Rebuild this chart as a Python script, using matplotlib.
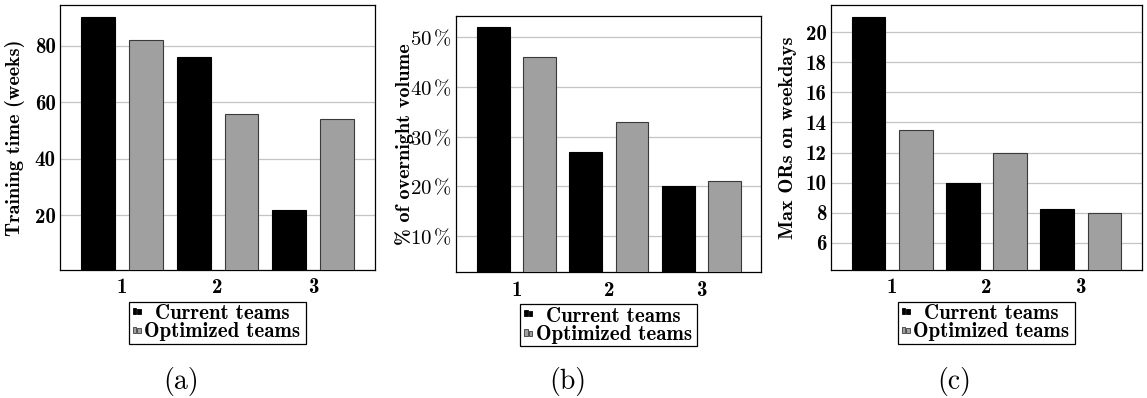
import numpy as np
import matplotlib
matplotlib.use("Agg")
import matplotlib.pyplot as plt
from matplotlib.patches import Rectangle

W, H = 1147, 398
plt.rcParams["mathtext.fontset"] = "cm"
plt.rcParams["axes.unicode_minus"] = False

# ---- data -------------------------------------------------------------
groups = [1, 2, 3]
group_labels = ["1", "2", "3"]
series_names = ["Current teams", "Optimized teams"]

training_current = [90, 76, 22]
training_optimized = [82, 56, 54]

overnight_current = [52, 27, 20]
overnight_optimized = [46, 33, 21]

max_or_current = [21, 10, 8.25]
max_or_optimized = [13.5, 12, 8]

yticks_training = [20, 40, 60, 80]
yticks_overnight = [10, 20, 30, 40, 50]
yticks_max_or = [6, 8, 10, 12, 14, 16, 18, 20]

ylabels = ["Training time (weeks)", "% of overnight volume", "Max ORs on weekdays"]
captions = ["(a)", "(b)", "(c)"]

# ---- style ------------------------------------------------------------
BLACK = "#000000"
GRAY = "#a0a0a0"
EDGE = "#3a3a3a"
GRID = "#c4c4c4"
BOLD = "cmb10"
ROMAN = "cmr10"
FS = 15
FS_LABEL = 14.5
FS_CAPTION = 20

fig = plt.figure(figsize=(W / 100, H / 100), dpi=100)


def px_box(x0, y0, x1, y1):
    """Pixel box (top-left origin) -> figure fraction rect."""
    return [x0 / W, 1 - y1 / H, (x1 - x0) / W, (y1 - y0) / H]


panels = [
    dict(box=(60, 5, 375.3, 270), ylim=(0.65, 94.4), cur=training_current,
         opt=training_optimized, yticks=yticks_training, pct=False,
         label_x=25, caption_x=180.7),
    dict(box=(456.3, 15.7, 761.3, 272.3), ylim=(2.69, 54.36), cur=overnight_current,
         opt=overnight_optimized, yticks=yticks_overnight, pct=True,
         label_x=413.5, caption_x=568),
    dict(box=(831, 4.7, 1142, 270), ylim=(4.18, 21.84), cur=max_or_current,
         opt=max_or_optimized, yticks=yticks_max_or, pct=False,
         label_x=797, caption_x=954),
]

x = np.array(groups, dtype=float)
offset, width = 0.25, 0.355


def draw_legend(ax):
    pos = ax.get_position()
    cx = (pos.x0 + pos.x1) / 2 * W
    axis_bottom = (1 - pos.y0) * H
    top = axis_bottom + 31.5
    bw, bh = 177, 42.5
    x0 = cx - bw / 2
    fig.patches.append(Rectangle((x0 / W, 1 - (top + bh) / H), bw / W, bh / H,
                                 transform=fig.transFigure, fill=False,
                                 edgecolor="black", lw=0.9))
    rows = [(series_names[0], BLACK, 12.5, 17.8), (series_names[1], GRAY, 31.8, 35.8)]
    for name, color, base_dy, text_dy in rows:
        hx = x0 + 4
        base = top + base_dy
        for bx, hh in ((0, 6.2), (4.3, 5.0)):
            fig.patches.append(Rectangle(((hx + bx) / W, 1 - base / H), 3.3 / W, hh / H,
                                         transform=fig.transFigure, facecolor=color,
                                         edgecolor=EDGE if color != BLACK else BLACK,
                                         lw=0.6))
        fig.text((cx + 4.8) / W, 1 - (top + text_dy) / H, name, ha="center",
                 va="baseline", family=BOLD, size=FS)


for i, p in enumerate(panels):
    ax = fig.add_axes(px_box(*p["box"]))
    ax.bar(x - offset, p["cur"], width=width, color=BLACK, edgecolor=BLACK,
           lw=0.8, zorder=3)
    ax.bar(x + offset, p["opt"], width=width, color=GRAY, edgecolor=EDGE,
           lw=0.8, zorder=3)
    ax.set_xlim(0.35, 3.65)
    ax.set_ylim(*p["ylim"])
    ax.set_xticks(groups)
    ax.set_xticklabels(group_labels, family=BOLD, size=FS)
    ax.set_yticks(p["yticks"])
    if p["pct"]:
        ax.set_yticklabels([r"$\mathbf{%d}\,\%%$" % v for v in p["yticks"]], size=FS)
    else:
        ax.set_yticklabels([str(v) for v in p["yticks"]], family=BOLD, size=FS)
    ax.tick_params(axis="x", length=0, pad=6)
    ax.tick_params(axis="y", length=0, pad=3)
    ax.yaxis.grid(True, color=GRID, lw=0.9, zorder=0)
    ax.set_axisbelow(True)
    for s in ax.spines.values():
        s.set_linewidth(0.9)
        s.set_color("black")
    ax.set_ylabel(ylabels[i], family=BOLD, size=FS_LABEL)
    ax.yaxis.set_label_coords((p["label_x"] - p["box"][0]) / (p["box"][2] - p["box"][0]), 0.5)
    draw_legend(ax)
    fig.text(p["caption_x"] / W, 1 - 389 / H, captions[i], ha="center",
             va="baseline", family=ROMAN, size=FS_CAPTION)

fig.savefig("out.png", dpi=100)
